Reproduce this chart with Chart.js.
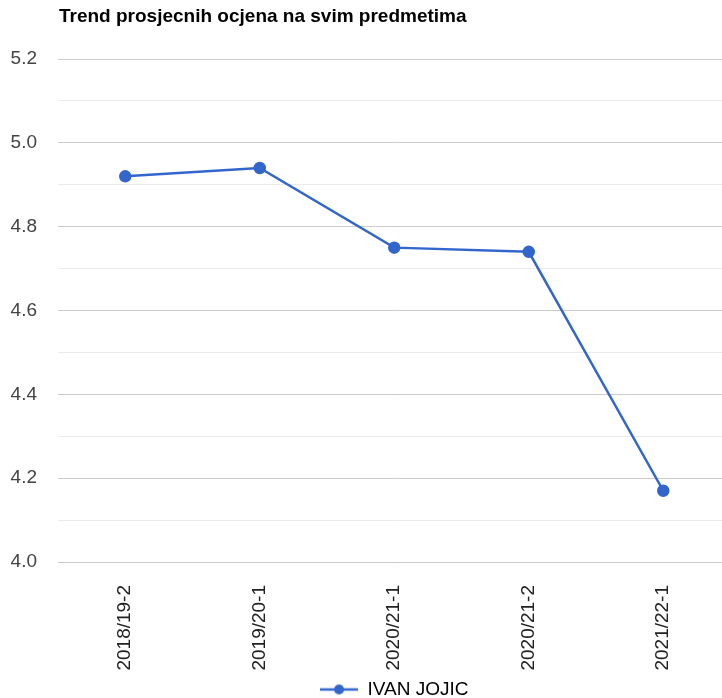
<!DOCTYPE html>
<html>
<head>
<meta charset="utf-8">
<script src="https://cdn.jsdelivr.net/npm/chart.js@4.4.1/dist/chart.umd.min.js"></script>
<style>
  html, body { margin: 0; padding: 0; background: #fff; overflow: hidden; }
  #wrap { width: 738px; height: 709px; }
</style>
</head>
<body>
<div id="wrap"><canvas id="trend" width="738" height="709"></canvas></div>
<script>
const semesters = ["2018/19-2", "2019/20-1", "2020/21-1", "2020/21-2", "2021/22-1"];
const averages = [4.92, 4.94, 4.75, 4.74, 4.17];
const seriesName = "IVAN JOJIC";
const chartTitle = "Trend prosjecnih ocjena na svim predmetima";

const blue = "#3366cc";
const fontFamily = "Arial, 'Liberation Sans', sans-serif";

// legend marker: short line with a dot in the middle
const marker = document.createElement("canvas");
marker.width = 38;
marker.height = 12;
const mctx = marker.getContext("2d");
mctx.strokeStyle = blue;
mctx.lineWidth = 2.5;
mctx.beginPath();
mctx.moveTo(0, 6);
mctx.lineTo(38, 6);
mctx.stroke();
mctx.fillStyle = blue;
mctx.beginPath();
mctx.arc(19, 6, 5, 0, Math.PI * 2);
mctx.fill();

const titlePlugin = {
    id: "leftTitle",
    afterDraw(chart) {
        const ctx = chart.ctx;
        ctx.save();
        ctx.font = "bold 19px " + fontFamily;
        ctx.fillStyle = "#000";
        ctx.textBaseline = "middle";
        ctx.textAlign = "left";
        ctx.fillText(chartTitle, chart.chartArea.left + 1, 17);
        ctx.restore();
    }
};

new Chart(document.getElementById("trend"), {
    type: "line",
    data: {
        labels: semesters,
        datasets: [{
            label: seriesName,
            data: averages,
            borderColor: blue,
            backgroundColor: blue,
            borderWidth: 2.5,
            pointRadius: 5,
            pointHoverRadius: 5,
            tension: 0
        }]
    },
    options: {
        responsive: false,
        animation: false,
        layout: { padding: { top: 59, left: 0, right: 0, bottom: 0 } },
        plugins: {
            legend: {
                position: "bottom",
                fullSize: false,
                labels: {
                    font: { family: fontFamily, size: 19 },
                    color: "#444",
                    padding: 0,
                    boxHeight: 12,
                    pointStyleWidth: 38,
                    usePointStyle: true,
                    generateLabels(chart) {
                        return [{
                            text: seriesName,
                            pointStyle: marker,
                            fillStyle: blue,
                            strokeStyle: blue,
                            lineWidth: 0,
                            datasetIndex: 0
                        }];
                    }
                }
            },
            tooltip: { enabled: false }
        },
        scales: {
            x: {
                offset: true,
                grid: { display: false },
                border: { display: false },
                afterFit(scale) { scale.height = 118; },
                ticks: {
                    minRotation: 90,
                    maxRotation: 90,
                    padding: 15,
                    color: "#222",
                    font: { family: fontFamily, size: 19 }
                }
            },
            y: {
                min: 4.0,
                max: 5.2,
                border: { display: false },
                afterFit(scale) { scale.width = 58; },
                grid: {
                    drawTicks: false,
                    color(ctx) {
                        const v = Math.round(ctx.tick.value * 10);
                        return v % 2 === 0 ? "#cccccc" : "#ebebeb";
                    }
                },
                ticks: {
                    stepSize: 0.1,
                    padding: 21,
                    color: "#444",
                    font: { family: fontFamily, size: 19 },
                    callback(value) {
                        const v = Math.round(value * 10);
                        return v % 2 === 0 ? (v / 10).toFixed(1) : "";
                    }
                }
            }
        }
    },
    plugins: [titlePlugin]
});
</script>
</body>
</html>
